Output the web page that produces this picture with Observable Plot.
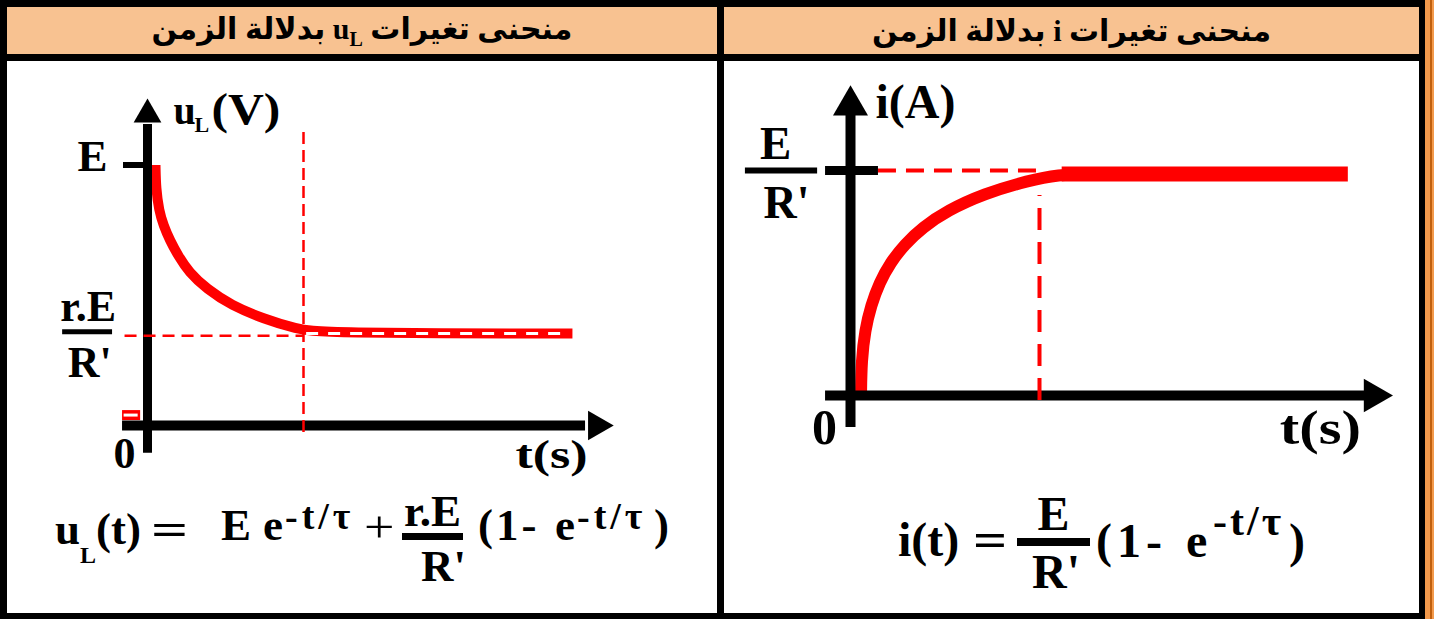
<!DOCTYPE html>
<html>
<head>
<meta charset="utf-8">
<script src="https://cdn.jsdelivr.net/npm/d3@7"></script>
<script src="https://cdn.jsdelivr.net/npm/@observablehq/plot@0.6"></script>
<style>
html, body { margin: 0; padding: 0; background: #fff; }
#frame { position: relative; width: 1434px; height: 619px; background: #000; overflow: hidden; }
.cell { position: absolute; }
.hdr { background: #F8C291; display: flex; align-items: center; justify-content: center;
       font-family: "Liberation Serif", "Times New Roman", "DejaVu Sans", serif; font-weight: bold; font-size: 30px; color: #000; }
.hdr sub { font-size: 20px; vertical-align: -7px; }
.body { background: #fff; }
.strip { background: #F39A4C; }
.strip2 { background: #C0600F; }
.plotbox { position: absolute; }
.fp { position: absolute; font-family: "Liberation Serif", "Times New Roman", serif; font-weight: bold; white-space: nowrap;
      color: #000; line-height: 1; transform-origin: 0 0; }
.bar { position: absolute; background: #000; }
</style>
</head>
<body>
<div id="frame">
  <div class="cell strip" style="left:1425px;top:0;width:9px;height:619px"></div>
  <div class="cell strip2" style="left:1430px;top:0;width:2px;height:619px"></div>
  <div class="cell hdr" id="hdrL" style="left:7px;top:7px;width:710px;height:47px"></div>
  <div class="cell hdr" id="hdrR" style="left:724px;top:7px;width:695px;height:47px"></div>
  <div class="cell body" style="left:7px;top:61px;width:710px;height:552px"></div>
  <div class="cell body" style="left:724px;top:61px;width:695px;height:552px"></div>
  <div class="plotbox" id="plotL" style="left:7px;top:61px"></div>
  <div class="plotbox" id="plotR" style="left:724px;top:61px"></div>
</div>
<script>
// ---------- texts ----------
const headerWordsL = ["منحنى تغيرات", "u", "L", "بدلالة الزمن"];
const headerWordsR = ["منحنى تغيرات", "i", "بدلالة الزمن"];
const uLAxisLabel = ["u", "L", "(V)"];
const iAxisLabel = ["i(A)"];
const timeLabel = ["t(s)"];
const originLabel = ["0"];
const uLTickLabels = ["E", "r.E", "R'"];
const iTickLabels = ["E", "R'"];
const expo = "-t/τ";

// ---------- values (t: the dashed guide sits at t = 5; value relative to E, or to E/R') ----------
const tSettle = 5;
const uLSteady = 0.345;            // r.E/R' relative to E
const uLCurveT = [0.256, 0.272, 0.369, 0.513, 0.721, 0.978, 1.330, 1.891, 2.692, 3.718, 4.776, 5.545, 13.62];
const uLCurveV = [1.0, 0.910, 0.825, 0.768, 0.710, 0.653, 0.588, 0.525, 0.461, 0.410, 0.371, 0.355, 0.353];
const iCurveT = [0.278, 0.291, 0.384, 0.542, 0.767, 1.058, 1.429, 1.905, 2.566, 3.519, 4.709, 5.556, 6.085];
const iCurveV = [0.0, 0.156, 0.289, 0.400, 0.502, 0.591, 0.671, 0.747, 0.822, 0.896, 0.956, 0.982, 0.984];
const iFlatT = [5.6, 13.17];
const iFlatV = 0.985;
// axis extents (data units)
const uLAxisT = [-0.8, 14.94];
const uLAxisV = [-0.107, 1.255];
const iAxisT = [-0.66, 14.34];
const iAxisV = [-0.142, 1.378];

const uLCurve = uLCurveT.map((t, k) => ({t, v: uLCurveV[k]}));
const iCurve = iCurveT.map((t, k) => ({t, v: iCurveV[k]}));

const serif = "'Liberation Serif', 'Times New Roman', serif";
const txt = (arr, opts) => Plot.text(arr, {text: d => d, fontFamily: serif, fontWeight: "bold", fontSize: 44,
  lineAnchor: "bottom", fill: "black", ...opts});
const stretch = (svg, label, sx) => {
  d3.select(svg).selectAll("text").filter(function() { return this.textContent === label; })
    .attr("transform", function() { return (this.getAttribute("transform") || "") + ` scale(${sx},1)`; });
};

// ---------- left chart ----------
const left = Plot.plot({
  width: 710, height: 430,
  x: {type: "linear", domain: [0, 5], range: [140, 296], axis: null},
  y: {type: "linear", domain: [0, 1], range: [364, 103.5], axis: null},
  style: {background: "transparent", overflow: "visible"},
  marks: [
    Plot.line(uLCurve, {x: "t", y: "v", stroke: "#ff0000", strokeWidth: 10, curve: "basis", strokeLinecap: "butt"}),
    Plot.ruleY([uLCurveV[uLCurveV.length - 1]], {x1: tSettle + 0.1, x2: uLCurveT[uLCurveT.length - 1] - 0.15,
      stroke: "white", strokeWidth: 3, strokeDasharray: "12,10"}),
    // small red mark near the origin
    Plot.ruleY([0.04], {x1: uLAxisT[0], x2: -0.22, stroke: "#ff0000", strokeWidth: 10}),
    Plot.ruleY([0.04], {x1: uLAxisT[0] + 0.05, x2: -0.3, stroke: "white", strokeWidth: 3}),
    // axes
    Plot.ruleX([0], {y1: uLAxisV[0], y2: uLAxisV[1] - 0.1, stroke: "black", strokeWidth: 9}),
    Plot.ruleY([0], {x1: uLAxisT[0], x2: uLAxisT[1] - 0.9, stroke: "black", strokeWidth: 10}),
    Plot.dot([0], {x: 0, y: uLAxisV[1], symbol: "triangle", r: 10.3, fill: "black", dy: 16}),
    Plot.dot([0], {x: uLAxisT[1], y: 0, symbol: "triangle", r: 11, rotate: 90, fill: "black", dx: -17}),
    Plot.ruleY([1], {x1: -0.77, x2: 0, stroke: "black", strokeWidth: 6}),
    // dashed guides
    Plot.ruleX([tSettle], {y1: -0.027, y2: 1.144, stroke: "#ff0000", strokeWidth: 2.5, strokeDasharray: "12,6"}),
    Plot.ruleY([uLSteady], {x1: -0.72, x2: tSettle, stroke: "#ff0000", strokeWidth: 2.5, strokeDasharray: "12,7"}),
    // labels
    txt([uLTickLabels[0]], {x: -1.76, y: 1, dy: 6, fontSize: 45}),
    txt([uLTickLabels[1]], {x: -1.9, y: uLSteady, dy: -15}),
    Plot.ruleY([uLSteady], {x1: -2.72, x2: -1.12, dy: -4, stroke: "black", strokeWidth: 5}),
    txt([uLTickLabels[2]], {x: -1.85, y: uLSteady, dy: 41}),
    txt(originLabel, {x: -0.74, y: 0, dy: 42}),
    txt(timeLabel, {x: 12.95, y: 0, dy: 42, fontSize: 40}),
    txt([uLAxisLabel[0]], {x: 0.83, y: uLAxisV[1], dy: 25, textAnchor: "start", fontSize: 40}),
    txt([uLAxisLabel[1]], {x: 0.83, y: uLAxisV[1], dy: 33, dx: 21, textAnchor: "start", fontSize: 22}),
    txt([uLAxisLabel[2]], {x: 0.83, y: uLAxisV[1], dy: 25, dx: 38, textAnchor: "start"})
  ]
});
stretch(left, timeLabel[0], 1.3);
stretch(left, uLAxisLabel[2], 1.13);
document.getElementById("plotL").append(left);

// ---------- right chart ----------
const right = Plot.plot({
  width: 695, height: 430,
  x: {type: "linear", domain: [0, 5], range: [126, 315], axis: null},
  y: {type: "linear", domain: [0, 1], range: [334, 109], axis: null},
  style: {background: "transparent", overflow: "visible"},
  marks: [
    Plot.line(iCurve, {x: "t", y: "v", stroke: "#ff0000", strokeWidth: 12, curve: "basis", strokeLinecap: "butt"}),
    Plot.ruleY([iFlatV], {x1: iFlatT[0], x2: iFlatT[1], stroke: "#ff0000", strokeWidth: 15}),
    // axes
    Plot.ruleX([0], {y1: iAxisV[0], y2: iAxisV[1] - 0.12, stroke: "black", strokeWidth: 10}),
    Plot.ruleY([0], {x1: iAxisT[0], x2: iAxisT[1] - 0.7, stroke: "black", strokeWidth: 10}),
    Plot.dot([0], {x: 0, y: iAxisV[1], symbol: "triangle", r: 13, fill: "black", dy: 20}),
    Plot.dot([0], {x: iAxisT[1], y: 0, symbol: "triangle", r: 12.5, rotate: 90, fill: "black", dx: -19}),
    Plot.ruleY([1], {x1: -0.66, x2: 0.74, stroke: "black", strokeWidth: 9}),
    // dashed guides
    Plot.ruleY([1], {x1: 0.74, x2: tSettle, stroke: "#ff0000", strokeWidth: 4, strokeDasharray: "18,10"}),
    Plot.ruleX([tSettle], {y1: -0.022, y2: 0.889, stroke: "#ff0000", strokeWidth: 4, strokeDasharray: "22,12"}),
    // labels
    txt([iTickLabels[0]], {x: -1.98, y: 1, dy: -12, fontSize: 47}),
    Plot.ruleY([1], {x1: -2.78, x2: -0.87, stroke: "black", strokeWidth: 6}),
    txt([iTickLabels[1]], {x: -1.69, y: 1, dy: 47, fontSize: 46}),
    txt(originLabel, {x: -0.69, y: 0, dy: 48, fontSize: 50}),
    txt(timeLabel, {x: 12.43, y: 0, dy: 48, fontSize: 48}),
    txt(iAxisLabel, {x: 0.66, y: iAxisV[1], dy: 33, textAnchor: "start", fontSize: 48})
  ]
});
stretch(right, timeLabel[0], 1.22);
document.getElementById("plotR").append(right);

// ---------- headers ----------
document.getElementById("hdrL").innerHTML =
  `<span dir="rtl">${headerWordsL[0]} <span dir="ltr">${headerWordsL[1]}<sub>${headerWordsL[2]}</sub></span> ${headerWordsL[3]}</span>`;
document.getElementById("hdrR").innerHTML =
  `<span dir="rtl">${headerWordsR[0]} <span dir="ltr">${headerWordsR[1]}</span> ${headerWordsR[2]}</span>`;

// ---------- formulas (HTML text under each chart) ----------
const frame = document.getElementById("frame");
function piece(text, x, baseline, size, o = {}) {
  const s = document.createElement("span");
  s.className = "fp";
  s.textContent = text;
  s.style.fontSize = size + "px";
  s.style.left = x + "px";
  s.style.top = (baseline - 0.8375 * size) + "px";
  if (o.normal) s.style.fontWeight = "normal";
  if (o.ls) s.style.letterSpacing = o.ls + "px";
  if (o.sx) s.style.transform = `scaleX(${o.sx})`;
  if (o.w) { s.style.width = o.w + "px"; s.style.textAlign = "center"; }
  frame.append(s);
}
function bar(x1, x2, y1, y2) {
  const b = document.createElement("div");
  b.className = "bar";
  Object.assign(b.style, {left: x1 + "px", top: y1 + "px", width: (x2 - x1) + "px", height: (y2 - y1) + "px"});
  frame.append(b);
}
// left: u_L(t) = E e^{-t/τ} + (r.E / R') (1- e^{-t/τ})
piece(uLAxisLabel[0], 55, 545, 45);
piece(uLAxisLabel[1], 80, 563, 24);
piece("(t)", 96, 545, 45);
piece("=", 151, 545, 45, {sx: 1.45});
piece(uLTickLabels[0], 221, 541, 45);
piece("e", 263, 541, 45);
piece(expo, 285, 529, 38, {ls: 4});
piece("+", 364, 543, 45, {normal: true, sx: 1.2});
piece(uLTickLabels[1], 402, 527, 45, {w: 61});
bar(402, 463, 533, 540);
piece(uLTickLabels[2], 421, 582, 45);
piece("(1-", 478, 541, 45, {ls: 3});
piece("e", 555, 541, 45);
piece(expo, 577, 529, 38, {ls: 4});
piece(")", 654, 541, 45);
// right: i(t) = (E / R') (1- e^{-t/τ})
piece("i(t)", 898, 556, 48);
piece("=", 973, 556, 48, {sx: 1.25});
piece(iTickLabels[0], 1017, 530, 48, {w: 73});
bar(1017, 1090, 538, 546);
piece(iTickLabels[1], 1032, 588, 48);
piece("(1-", 1096, 557, 48, {ls: 5});
piece("e", 1186, 557, 48);
piece(expo, 1213, 535, 42, {ls: 3});
piece(")", 1289, 557, 48);
</script>
</body>
</html>
